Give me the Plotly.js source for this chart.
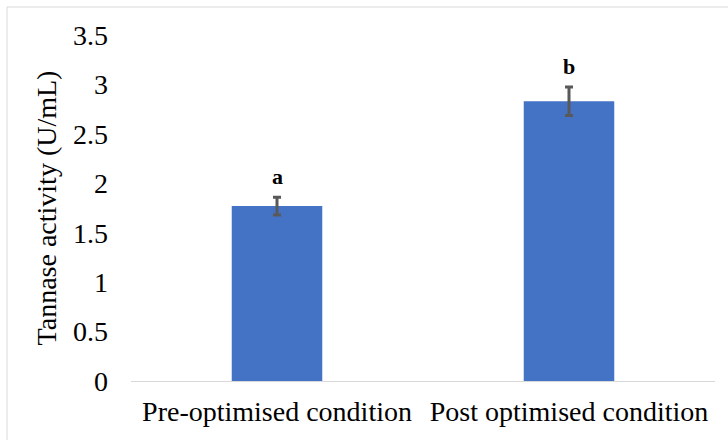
<!DOCTYPE html>
<html>
<head>
<meta charset="utf-8">
<script src="https://cdn.plot.ly/plotly-3.0.1.min.js"></script>
<style>html,body{margin:0;padding:0;background:#fff;}#chart{width:728px;height:440px;}</style>
</head>
<body>
<div id="chart"></div>
<script>
const categories = ["Pre-optimised condition", "Post optimised condition"];
const activity = [1.77, 2.83];
const errors = [0.09, 0.145];
const letters = ["a", "b"];
const yTicks = [0, 0.5, 1, 1.5, 2, 2.5, 3, 3.5];

const font = "'Liberation Serif', 'Times New Roman', serif";

const trace = {
  type: "bar",
  x: categories,
  y: activity,
  marker: {color: "#4472C4"},
  error_y: {type: "data", array: errors, visible: true, color: "#595959", thickness: 3, width: 4},
  width: 0.31,
  hoverinfo: "none"
};

const annotations = categories.map((c, i) => ({
  x: c, y: activity[i] + errors[i], xref: "x", yref: "y",
  text: "<b>" + letters[i] + "</b>", showarrow: false,
  yanchor: "bottom", yshift: 6,
  font: {family: font, size: 22, color: "#000"}
}));

const layout = {
  width: 728, height: 440,
  margin: {l: 131, r: 13, t: 35, b: 59},
  paper_bgcolor: "#fff", plot_bgcolor: "#fff",
  showlegend: false,
  xaxis: {
    showgrid: false, zeroline: false, showline: true, linecolor: "#d9d9d9", linewidth: 1,
    ticks: "", tickfont: {family: font, size: 28, color: "#000"}, ticklabelstandoff: 5
  },
  yaxis: {
    range: [0, 3.5], tickvals: yTicks, ticktext: yTicks.map(String),
    showgrid: false, zeroline: false, showline: false, ticks: "",
    tickfont: {family: font, size: 28, color: "#000"}, ticklabelstandoff: 22,
    title: {text: "Tannase activity (U/mL)", font: {family: font, size: 28, color: "#000"}, standoff: 8}
  },
  annotations: annotations,
  shapes: [{
    type: "rect", xref: "paper", yref: "paper",
    x0: -0.2123, x1: 1.05, y0: -0.3, y1: 1.0809,
    line: {color: "#d9d9d9", width: 1}, fillcolor: "rgba(0,0,0,0)", layer: "below"
  }]
};

Plotly.newPlot("chart", [trace], layout, {displayModeBar: false, staticPlot: true});
</script>
</body>
</html>
